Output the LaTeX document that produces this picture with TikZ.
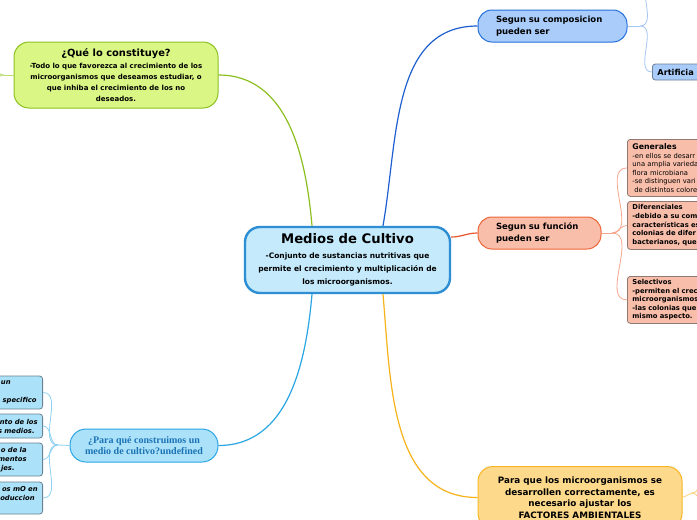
\documentclass[tikz,border=0pt]{standalone}
\usepackage{fontspec}
\setmainfont{DejaVu Sans}
\newfontfamily\timesfont{Liberation Serif}
\usepackage{tikz}
\usetikzlibrary{positioning}
\definecolor{mediofill}{HTML}{C4EAFB}
\definecolor{medioborder}{HTML}{2D8ED3}
\definecolor{quefill}{HTML}{DAF785}
\definecolor{queborder}{HTML}{8CC122}
\definecolor{compfill}{HTML}{A9CCFA}
\definecolor{compborder}{HTML}{2670DB}
\definecolor{artborder}{HTML}{6B7F99}
\definecolor{funcfill}{HTML}{F9BEAA}
\definecolor{funcborder}{HTML}{EE6638}
\definecolor{leafborder}{HTML}{8E7A73}
\definecolor{factfill}{HTML}{FDD98B}
\definecolor{factborder}{HTML}{F9B624}
\definecolor{parafill}{HTML}{ABE2F9}
\definecolor{paraborder}{HTML}{2AA6E4}
\definecolor{paratext}{HTML}{1B73B5}
\definecolor{kidborder}{HTML}{6C8290}
\definecolor{linkgreen}{HTML}{8CC01F}
\definecolor{linkblue}{HTML}{1E5FD0}
\definecolor{linkred}{HTML}{E9542C}
\definecolor{linkorange}{HTML}{F6B31A}
\definecolor{linksky}{HTML}{2AA6E4}
\definecolor{queline}{HTML}{B9DC6E}
\definecolor{compline}{HTML}{A6C7F2}
\definecolor{funcline}{HTML}{F5A68C}
\definecolor{factline}{HTML}{FAD27A}
\definecolor{paraline}{HTML}{8ED2F1}
\newcommand\padright[1]{\hbox to #1{}}
\tikzset{
  mainbox/.style={draw=medioborder, fill=mediofill, line width=2.4pt, rounded corners=15pt, align=center, minimum width=205pt, minimum height=66pt, inner sep=2pt, font=\bfseries\fontsize{7.5}{13}\selectfont},
  bigbox/.style={line width=1pt, rounded corners=15pt, align=center, inner sep=2pt},
  topicbox/.style={line width=1pt, rounded corners=14pt, minimum height=32pt, align=left, inner sep=3pt, font=\bfseries\fontsize{8.5}{12}\selectfont},
  leafbox/.style={draw=leafborder, fill=funcfill, line width=0.8pt, rounded corners=3pt, anchor=north west, align=left, inner xsep=5pt, inner ysep=2pt, text width=85pt},
  kidbox/.style={draw=kidborder, fill=parafill, line width=0.8pt, rounded corners=3pt, anchor=east, align=right, inner xsep=5pt, inner ysep=2pt, text width=110pt, font=\bfseries\itshape\fontsize{6.8}{9}\selectfont},
  branch/.style={line width=1.2pt},
  twig/.style={line width=0.8pt}
}
\begin{document}
\begin{tikzpicture}[x=1pt,y=-1pt]
\path[use as bounding box, fill=white] (0,0) rectangle (697,520);
\clip (0,0) rectangle (697,520);
\node[mainbox] (medios) at (347.5,260) {{\fontsize{13.2}{15}\selectfont Medios de Cultivo}\\[2pt]-Conjunto de sustancias nutritivas que\\permite el crecimiento y multiplicación de\\los microorganismos.};
\node[bigbox, draw=queborder, fill=quefill, minimum width=204pt, minimum height=66pt, font=\bfseries\fontsize{7}{11}\selectfont] (que) at (116,75) {{\fontsize{9.9}{11}\selectfont ¿Qué lo constituye?}\\[1pt]-Todo lo que favorezca al crecimiento de los\\microorganismos que deseamos estudiar, o\\que inhiba el crecimiento de los no\\deseados.};
\node[topicbox, draw=compborder, fill=compfill, minimum width=149pt, text width=113pt] (comp) at (552.5,26) {Segun su composicion\\pueden ser};
\node[leafbox, draw=artborder, fill=compfill, anchor=west, text width=60pt, minimum height=16pt, font=\bfseries\fontsize{8.2}{9}\selectfont] (artif) at (652,72) {Artificia};
\node[topicbox, draw=funcborder, fill=funcfill, minimum width=123pt, text width=87pt] (func) at (539.5,233) {Segun su función\\pueden ser};
\node[leafbox, minimum height=57pt, font=\fontsize{6.8}{8.5}\selectfont] (gen) at (627,139) {{\bfseries\fontsize{7.8}{8.5}\selectfont Generales}\\-en ellos se desarr\\una amplia varieda\\flora microbiana\\-se distinguen vari\\\hspace*{2pt}de distintos colore};
\node[leafbox, minimum height=48pt, font=\bfseries\fontsize{6.8}{8.7}\selectfont] (dif) at (627,201) {Diferenciales\\-debido a su com\\características es\\colonias de difer\\bacterianos, que};
\node[leafbox, minimum height=47pt, font=\bfseries\fontsize{6.8}{8.6}\selectfont] (sel) at (627,276) {Selectivos\\-permiten el crec\\microorganismos\\-las colonias que\\mismo aspecto.};
\node[bigbox, draw=factborder, fill=factfill, minimum width=204pt, minimum height=62pt, font=\bfseries\fontsize{8.8}{11.5}\selectfont] (fact) at (580,497.5) {Para que los microorganismos se\\desarrollen correctamente, es\\necesario ajustar los\\FACTORES AMBIENTALES};
\node[bigbox, draw=paraborder, fill=parafill, rounded corners=16pt, minimum width=148pt, minimum height=33pt, text=paratext, font=\timesfont\bfseries\fontsize{10}{11}\selectfont] (para) at (144,445.5) {¿Para qué construimos un\\medio de cultivo?undefined};
\node[kidbox, minimum height=33pt] (kid1) at (43,392.5) {un\padright{27pt}\\\mbox{}\\specifico\padright{1pt}};
\node[kidbox, minimum height=24pt] (kid2) at (43,426) {nto de los\\s medios.\padright{3pt}};
\node[kidbox, minimum height=33pt] (kid3) at (43,459.5) {o de la\padright{11pt}\\mentos\padright{11pt}\\jes.\padright{23pt}};
\node[kidbox, minimum height=32pt] (kid4) at (43,498) {os mO en\\oduccion\padright{3pt}\\\mbox{}};
\coordinate (quefork) at (4,75);
\coordinate (queup) at (-12,38);
\coordinate (quedown) at (-12,112);
\coordinate (compfork) at (640,26);
\coordinate (compup) at (652,-22);
\coordinate (funcfork) at (612,233);
\coordinate (factfork) at (692,493);
\coordinate (factup) at (708,468);
\coordinate (factdown) at (708,520);
\coordinate (parafork) at (58,445);
\draw[branch, linkgreen] ([xshift=-35.5pt]medios.north) to[out=95,in=0] (que.east);
\draw[branch, linkblue] ([xshift=35.5pt]medios.north) to[out=80,in=180] (comp.west);
\draw[branch, linkred] ([yshift=23pt]medios.east) to[out=0,in=180] (func.west);
\draw[branch, linkorange] ([xshift=35.5pt]medios.south) to[out=-85,in=180] (fact.west);
\draw[branch, linksky] ([xshift=-35.5pt]medios.south) to[out=-95,in=0] (para.east);
\draw[twig, queline] (que.west) -- (quefork);
\foreach \kid in {queup,quedown}
  \draw[twig, queline] (quefork) to[out=180,in=0] (\kid);
\draw[twig, compline] (comp.east) -- (compfork);
\foreach \kid in {compup,artif.west}
  \draw[twig, compline] (compfork) to[out=0,in=180] (\kid);
\draw[twig, funcline] (func.east) -- (funcfork);
\foreach \kid in {gen,dif,sel}
  \draw[twig, funcline] (funcfork) to[out=0,in=180] (\kid.west);
\draw[twig, factline] (fact.east) -- (factfork);
\foreach \kid in {factup,factdown}
  \draw[twig, factline] (factfork) to[out=0,in=180] (\kid);
\draw[twig, paraline] (para.west) -- (parafork);
\foreach \kid in {kid1,kid2,kid3,kid4}
  \draw[twig, paraline] (parafork) to[out=180,in=0] (\kid.east);
\end{tikzpicture}
\end{document}
